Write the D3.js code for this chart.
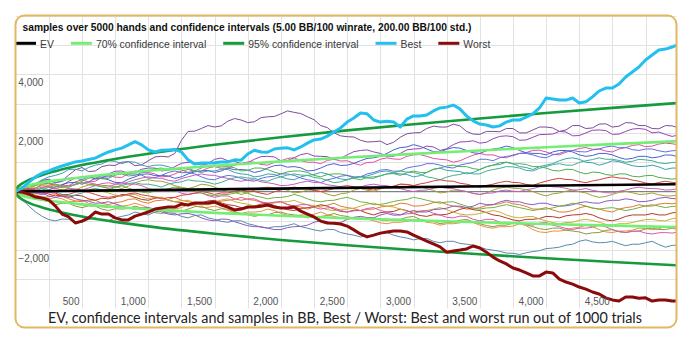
<!DOCTYPE html>
<html>
<head>
<meta charset="utf-8">
<script src="https://cdn.jsdelivr.net/npm/d3@7"></script>
<style>
  body { margin: 0; background: #fff; }
  svg { display: block; }
</style>
</head>
<body>
<svg id="chart" width="700" height="340"></svg>
<script>
// ---- data -------------------------------------------------------------
const titleText = "samples over 5000 hands and confidence intervals (5.00 BB/100 winrate, 200.00 BB/100 std.)";
const captionText = "EV, confidence intervals and samples in BB, Best / Worst: Best and worst run out of 1000 trials";

// hands at which every run was recorded (every 50 hands)
const hands = d3.range(0, 5001, 50);

// EV and confidence bands (BB)
const evHands = [0, 5000];
const evValues = [0, 250];
const ciHands = [0, 10, 25, 50, 100, 200, 300, 500, 750, 1000, 1500, 2000, 2500, 3000, 3500, 4000, 4500, 5000];
const upper70 = [0, 66, 105, 149, 212, 303, 374, 489, 605, 706, 878, 1027, 1161, 1285, 1401, 1511, 1616, 1716];
const lower70 = [0, -65, -102, -144, -202, -283, -344, -439, -530, -606, -728, -827, -911, -985, -1051, -1111, -1166, -1216];
const upper95 = [0, 125, 197, 280, 397, 564, 694, 902, 1111, 1290, 1593, 1853, 2085, 2297, 2494, 2679, 2855, 3022];
const lower95 = [0, -124, -195, -275, -387, -544, -664, -852, -1036, -1190, -1443, -1653, -1835, -1997, -2144, -2279, -2405, -2522];

// best and worst of 1000 trials (BB)
const bestRun = [
  0,120, 320,500, 630,700, 800,870, 940,1010, 1040,1090, 1140,1250, 1350,1420, 1480,1590, 1700,1590,
  1420,1350, 1410,1420, 1430,1350, 1080,940, 970,970, 980,1010, 1010,1080, 1070,1280, 1410,1350, 1340,1450,
  1480,1490, 1420,1520, 1650,1760, 1790,1890, 2030,2170, 2370,2510, 2680,2650, 2440,2370, 2400,2370, 2200,2470,
  2580,2580, 2610,2750, 2850,2880, 2950,2820, 2580,2410, 2300,2270, 2200,2240, 2370,2440, 2440,2540, 2650,2850,
  3190,3160, 3120,3120, 3190,3020, 3060,3230, 3430,3530, 3530,3670, 3910,4080, 4250,4490, 4660,4830, 4860,4930,
  5030];
const worstRun = [
  0,-20, -90,-190, -220,-290, -500,-770, -870,-1075, -1010,-900, -700,-770, -770,-900, -970,-970, -840,-770,
  -700,-600, -560,-530, -530,-430, -460,-390, -390,-390, -360,-460, -530,-630, -600,-530, -530,-500, -460,-530,
  -560,-560, -530,-670, -770,-870, -1010,-1075, -1080,-1110, -1180,-1310, -1450,-1550, -1490,-1420, -1380,-1350, -1350,-1380,
  -1490,-1590, -1690,-1790, -1890,-2070, -2030,-2000, -1960,-1860, -1930,-2070, -2240,-2370, -2470,-2610, -2680,-2780, -2880,-2880,
  -2750,-2780, -2990,-3090, -3160,-3260, -3330,-3430, -3500,-3630, -3700,-3740, -3600,-3600, -3640,-3630, -3740,-3700, -3700,-3740,
  -3740];

// other sample runs (BB)
const sample01 = [
  0,160, 200,230, 380,420, 300,370, 560,740, 820,680, 700,850, 900,890, 1000,1020, 880,910,
  1050,1180, 1200,1180, 1300,1750, 2050,2060, 2150,2250, 2200,2240, 2400,2490, 2440,2350, 2380,2520, 2550,2560,
  2650,2750, 2700,2660, 2550,2450, 2250,2180, 2000,1900, 1870,1860, 1750,1690, 1700,1720, 1600,1680, 1850,1970,
  2000,2010, 2150,2230, 2200,2200, 2300,2240, 2050,1960, 1950,2050, 2050,2040, 2150,2150, 2000,2000, 2100,2200,
  2200,2170, 2050,2100, 2250,2250, 2150,2170, 2300,2310, 2200,2230, 2350,2340, 2250,2250, 2150,2140, 2250,2240,
  2170];
const sample02 = [
  0,-40, 100,110, 250,290, 180,210, 350,460, 500,510, 420,450, 600,690, 700,620, 650,760,
  800,800, 700,730, 850,960, 1000,980, 900,950, 1100,1140, 1050,1030, 950,980, 1100,1190, 1200,1180,
  1050,1060, 1150,1260, 1300,1210, 1200,1190, 1100,1130, 1250,1360, 1400,1420, 1350,1300, 1200,1200, 1300,1420,
  1450,1460, 1550,1520, 1400,1460, 1600,1690, 1700,1730, 1650,1680, 1800,1880, 1900,1870, 1750,1760, 1850,1940,
  1950,1960, 2050,2030, 1900,1910, 2000,2090, 2100,2080, 1950,1960, 2050,2130, 2150,2120, 2000,2030, 1950,1880,
  1930];
const sample03 = [
  0,40, -50,10, 120,220, 250,190, 200,330, 400,320, 350,480, 550,490, 480,620, 700,660,
  650,600, 500,520, 600,700, 750,690, 700,800, 850,790, 800,900, 950,1010, 1000,920, 900,990,
  1050,1130, 1150,1050, 1000,1000, 950,1060, 1100,1040, 1050,960, 900,990, 1000,1100, 1150,1110, 1100,1200,
  1250,1260, 1200,1130, 1100,1080, 1000,1050, 1150,1240, 1300,1250, 1250,1180, 1150,1250, 1300,1330, 1400,1410,
  1350,1270, 1250,1340, 1400,1470, 1500,1440, 1450,1380, 1350,1450, 1500,1570, 1600,1530, 1550,1620, 1650,1630,
  1590];
const sample04 = [
  0,90, 80,-10, -50,60, 150,240, 300,310, 250,330, 450,460, 400,310, 300,420, 500,590,
  600,540, 550,530, 450,500, 600,670, 700,720, 650,700, 800,740, 750,730, 650,700, 800,880,
  900,830, 850,810, 700,720, 800,900, 950,890, 900,960, 1050,1130, 1150,1200, 1300,1420, 1500,1520,
  1600,1540, 1450,1360, 1350,1440, 1500,1480, 1400,1320, 1300,1390, 1450,1480, 1550,1500, 1400,1320, 1300,1300,
  1250,1350, 1400,1400, 1350,1250, 1200,1230, 1300,1300, 1250,1160, 1100,1130, 1200,1200, 1150,1180, 1250,1240,
  1180];
const sample05 = [
  0,130, 200,270, 400,500, 550,620, 750,760, 700,820, 900,940, 1050,1030, 950,1020, 1000,900,
  850,900, 900,850, 750,800, 800,700, 650,700, 700,760, 750,650, 600,580, 500,530, 600,580,
  500,430, 400,500, 550,580, 650,600, 500,430, 400,470, 500,530, 600,680, 700,630, 600,580,
  500,540, 650,760, 800,720, 700,680, 600,650, 750,850, 900,920, 1000,950, 850,820, 750,850,
  900,950, 1050,1120, 1150,1100, 1000,980, 900,960, 1050,1020, 950,880, 850,860, 900,840, 750,800,
  800];
const sample06 = [
  0,-80, -100,-40, 50,150, 200,130, 150,260, 350,450, 500,430, 450,560, 600,530, 550,640,
  700,780, 800,730, 750,740, 650,700, 800,870, 900,840, 850,810, 700,720, 800,800, 750,660,
  600,670, 700,700, 650,550, 500,580, 600,600, 550,450, 400,480, 500,530, 600,610, 550,640,
  700,650, 650,750, 800,870, 900,850, 850,780, 750,840, 900,980, 1000,940, 950,920, 850,850,
  800,720, 700,760, 750,660, 600,660, 650,580, 550,600, 600,520, 500,540, 550,480, 450,420,
  460];
const sample07 = [
  0,80, 100,130, 200,170, 100,60, 0,50, 150,220, 250,210, 200,170, 100,180, 300,370,
  400,360, 350,290, 200,140, 100,160, 250,220, 150,60, 0,-30, -100,-40, 50,120, 150,110,
  100,40, -50,-20, 50,50, 0,-90, -150,-80, -50,50, 100,40, 0,90, 150,180, 250,240,
  200,160, 100,40, -50,-20, 50,40, 0,-70, -100,-50, 50,120, 150,110, 100,60, 0,-90,
  -150,-80, -50,10, 50,-10, -50,-140, -200,-170, -100,-30, 0,-40, -100,-90, -50,-110, -150,-150,
  -120];
const sample08 = [
  0,-60, -80,-120, -200,-180, -100,-160, -250,-320, -350,-290, -300,-400, -450,-380, -350,-270, -250,-350,
  -400,-320, -300,-270, -200,-300, -350,-380, -450,-450, -400,-330, -300,-270, -200,-270, -300,-370, -400,-390,
  -350,-440, -500,-530, -600,-530, -500,-470, -400,-500, -550,-580, -650,-610, -600,-530, -500,-480, -400,-420,
  -500,-490, -450,-380, -350,-440, -500,-530, -600,-590, -550,-480, -450,-420, -350,-420, -450,-510, -600,-600,
  -550,-630, -700,-700, -650,-560, -500,-570, -600,-660, -700,-600, -550,-520, -450,-500, -500,-430, -400,-420,
  -390];
const sample09 = [
  0,60, 50,-60, -100,-30, -50,-160, -200,-130, -150,-250, -300,-230, -250,-200, -100,-130, -200,-270,
  -300,-230, -200,-300, -350,-380, -450,-440, -400,-320, -300,-390, -450,-480, -550,-550, -500,-430, -400,-480,
  -550,-620, -650,-580, -550,-520, -450,-500, -600,-680, -700,-640, -650,-740, -800,-720, -700,-680, -600,-650,
  -750,-820, -850,-790, -800,-780, -700,-610, -550,-620, -650,-720, -800,-830, -900,-970, -1000,-950, -950,-920,
  -850,-860, -900,-830, -800,-790, -750,-800, -900,-970, -1000,-940, -850,-800, -800,-800, -750,-800, -800,-730,
  -700];
const sample10 = [
  0,30, 100,200, 250,210, 200,170, 100,30, 0,60, 100,10, -50,-120, -150,-110, -100,-190,
  -250,-190, -200,-290, -350,-310, -300,-390, -450,-420, -350,-290, -250,-340, -400,-430, -500,-490, -450,-380,
  -350,-350, -300,-390, -450,-480, -550,-620, -650,-610, -600,-570, -500,-430, -400,-470, -500,-530, -600,-670,
  -700,-660, -650,-600, -550,-620, -700,-770, -800,-790, -750,-700, -650,-700, -800,-870, -900,-860, -850,-940,
  -1000,-1060, -1100,-1060, -1050,-980, -950,-990, -1050,-1120, -1150,-1100, -1100,-1060, -1000,-960, -950,-990, -1000,-930,
  -900];
const sample11 = [
  0,-90, -150,-170, -250,-260, -200,-250, -350,-340, -300,-400, -450,-520, -550,-490, -500,-470, -400,-470,
  -550,-620, -650,-600, -600,-550, -450,-480, -550,-540, -500,-560, -650,-720, -750,-700, -700,-680, -600,-650,
  -750,-820, -850,-800, -800,-780, -700,-790, -850,-900, -950,-900, -900,-940, -1000,-1070, -1100,-1050, -1050,-1020,
  -950,-980, -1050,-1080, -1150,-1100, -1100,-1070, -1000,-1060, -1150,-1220, -1250,-1200, -1200,-1180, -1100,-1170, -1300,-1380,
  -1400,-1350, -1350,-1320, -1250,-1220, -1150,-1200, -1300,-1380, -1400,-1350, -1350,-1320, -1250,-1260, -1300,-1270, -1200,-1220,
  -1210];
const sample12 = [
  0,-30, -100,-220, -300,-350, -450,-400, -400,-500, -550,-490, -500,-600, -650,-590, -600,-580, -500,-560,
  -650,-720, -750,-690, -700,-680, -600,-520, -500,-600, -650,-590, -600,-690, -750,-790, -850,-800, -800,-720,
  -700,-770, -800,-820, -900,-860, -850,-820, -750,-820, -850,-920, -950,-900, -900,-970, -1000,-950, -950,-880,
  -850,-950, -1000,-1020, -1100,-1060, -1050,-980, -950,-1040, -1100,-1160, -1200,-1150, -1150,-1080, -1050,-1140, -1200,-1270,
  -1300,-1250, -1250,-1320, -1350,-1380, -1450,-1410, -1400,-1330, -1300,-1370, -1400,-1360, -1350,-1280, -1250,-1300, -1300,-1250,
  -1310];
const sample13 = [
  0,60, 50,80, 150,150, 100,180, 200,230, 300,300, 250,160, 150,250, 300,250, 250,200,
  100,40, 0,50, 50,-60, -100,-60, -50,-140, -200,-150, -150,-250, -300,-250, -250,-350, -400,-360,
  -350,-450, -500,-450, -450,-540, -600,-560, -550,-650, -700,-660, -650,-580, -550,-650, -700,-760, -800,-760,
  -750,-680, -650,-740, -800,-880, -900,-840, -850,-950, -1000,-950, -950,-1050, -1100,-1060, -1050,-1120, -1150,-1080,
  -1050,-1150, -1200,-1260, -1300,-1250, -1250,-1220, -1150,-1210, -1300,-1370, -1400,-1360, -1350,-1420, -1450,-1410, -1400,-1420,
  -1380];
const sample14 = [
  0,-280, -500,-700, -850,-960, -1000,-940, -950,-1030, -1050,-950, -900,-990, -1000,-900, -850,-800, -700,-760,
  -800,-700, -650,-730, -750,-850, -900,-820, -800,-900, -950,-1020, -1050,-1000, -1000,-1100, -1150,-1220, -1250,-1200,
  -1200,-1160, -1100,-1200, -1250,-1310, -1350,-1290, -1300,-1400, -1450,-1490, -1550,-1510, -1500,-1440, -1400,-1490, -1550,-1590,
  -1650,-1610, -1600,-1700, -1750,-1700, -1700,-1770, -1800,-1830, -1900,-1970, -2000,-2040, -2100,-2110, -2150,-2090, -2050,-2020,
  -1950,-1930, -1900,-1830, -1800,-1700, -1650,-1720, -1750,-1740, -1700,-1780, -1850,-1800, -1800,-1750, -1700,-1810, -1900,-1840,
  -1830];
const sample15 = [
  0,70, 100,10, -50,-160, -200,-150, -150,-250, -300,-330, -400,-390, -350,-420, -500,-570, -600,-560,
  -550,-600, -700,-770, -800,-760, -750,-800, -900,-970, -1000,-940, -950,-1030, -1100,-1170, -1200,-1200, -1250,-1300,
  -1300,-1230, -1200,-1190, -1150,-1050, -1000,-1030, -1100,-1060, -950,-880, -850,-890, -900,-800, -750,-810, -800,-700,
  -650,-700, -700,-620, -600,-570, -500,-500, -550,-500, -400,-450, -450,-360, -300,-350, -350,-420, -450,-400,
  -400,-470, -500,-490, -450,-380, -350,-390, -400,-330, -300,-300, -250,-280, -350,-340, -300,-230, -200,-240,
  -250];
const sample16 = [
  0,130, 200,240, 350,360, 300,340, 450,460, 400,500, 550,490, 500,610, 650,590, 600,560,
  450,470, 550,650, 700,640, 650,600, 500,420, 400,490, 550,520, 450,380, 350,450, 500,520,
  600,600, 550,460, 400,370, 300,400, 450,520, 550,500, 500,600, 650,730, 750,690, 700,800,
  850,880, 950,950, 900,830, 800,900, 950,990, 1100,1100, 1050,1150, 1200,1220, 1300,1300, 1250,1180,
  1150,1250, 1300,1380, 1400,1360, 1350,1420, 1450,1520, 1550,1490, 1500,1430, 1400,1450, 1450,1390, 1350,1390,
  1400];
const sample17 = [
  0,-60, -50,50, 100,60, 0,-100, -150,-120, -50,50, 100,60, 50,140, 200,270, 300,250,
  250,210, 150,250, 300,330, 400,360, 350,310, 250,310, 400,470, 500,460, 450,380, 350,440,
  500,560, 600,560, 550,480, 450,380, 300,330, 400,470, 500,460, 450,540, 600,640, 700,660,
  650,590, 500,460, 400,490, 550,580, 650,600, 600,700, 750,790, 850,840, 800,720, 700,790,
  850,920, 950,900, 900,990, 1050,1090, 1150,1100, 1100,1060, 1000,1030, 1100,1080, 1050,980, 950,990,
  1000];
const sample18 = [
  0,40, 50,-50, -100,-40, -50,30, 100,90, 50,120, 200,270, 300,250, 250,330, 400,460,
  500,460, 450,380, 350,440, 500,560, 600,560, 550,490, 450,390, 350,390, 400,330, 300,260,
  200,210, 250,310, 350,310, 300,230, 200,160, 100,110, 150,220, 250,210, 200,140, 100,40,
  0,40, 50,110, 150,110, 100,40, 0,-60, -100,-60, -50,20, 50,10, 0,60, 100,160,
  200,160, 150,110, 50,60, 100,40, 0,-40, -50,10, 50,110, 150,110, 100,90, 50,60,
  100];
const sample19 = [
  0,60, 80,50, 0,-90, -150,-110, -100,-20, 0,-30, -100,-170, -200,-160, -150,-80, -50,-110,
  -150,-190, -250,-210, -200,-130, -100,-60, 0,-40, -100,-50, -50,10, 50,10, 0,-60, -100,-10,
  50,110, 150,110, 100,30, 0,40, 100,170, 200,160, 150,80, 50,120, 150,180, 250,240,
  200,260, 300,360, 400,360, 350,280, 250,190, 150,210, 250,310, 350,310, 300,240, 200,290,
  350,410, 450,410, 400,340, 300,360, 400,460, 500,460, 450,390, 350,290, 250,310, 350,310,
  300];
const sample20 = [
  0,90, 150,210, 300,290, 250,190, 150,240, 300,240, 200,160, 100,160, 200,110, 50,-20,
  -50,20, 50,90, 150,120, 100,20, -50,-110, -150,-110, -100,-60, 0,-60, -150,-190, -250,-210,
  -200,-170, -100,-160, -250,-320, -350,-310, -300,-240, -200,-270, -350,-380, -450,-440, -400,-340, -300,-270,
  -200,-240, -300,-350, -400,-360, -350,-430, -500,-560, -600,-560, -550,-500, -450,-500, -550,-600, -650,-610,
  -600,-560, -500,-460, -400,-430, -500,-560, -600,-570, -550,-600, -650,-610, -550,-490, -450,-500, -550,-510,
  -500];

const samples = [sample01, sample02, sample03, sample04, sample05, sample06, sample07, sample08, sample09, sample10,
                 sample11, sample12, sample13, sample14, sample15, sample16, sample17, sample18, sample19, sample20];
const sampleColors = ["#7d4b9c", "#9444b4", "#e0509f", "#4a5fd0", "#3aa0b0", "#4cb050", "#a0a030", "#e07a30", "#b03a2a", "#c8b030",
                      "#e89040", "#8a9a40", "#d85ab0", "#5a8aa8", "#8a5ac0", "#6070e0", "#40b090", "#c060c0", "#d04040", "#70b040"];

const legendLabels = ["EV", "70% confidence interval", "95% confidence interval", "Best", "Worst"];
const legendColors = ["#000000", "#74ee74", "#159a3c", "#22c0ee", "#8b0a0a"];

const xTickLabels = [500, 1000, 1500, 2000, 2500, 3000, 3500, 4000, 4500];
const yTickLabels = [-2000, 2000, 4000];

// ---- drawing ----------------------------------------------------------
const svg = d3.select("#chart");
const plot = { left: 15.7, right: 676, top: 15.7, bottom: 308.7 };

const x = d3.scaleLinear().domain([0, 5000]).range([15.7, 678.7]);
const y = d3.scaleLinear().domain([-4000, 6000]).range([308.7, 15.7]);

svg.append("defs").append("clipPath").attr("id", "plotClip")
  .append("rect")
  .attr("x", plot.left).attr("y", plot.top)
  .attr("width", plot.right - plot.left).attr("height", plot.bottom - plot.top);

// rounded card background
svg.append("rect")
  .attr("x", 15.5).attr("y", 15.5).attr("width", 661).attr("height", 312)
  .attr("rx", 9).attr("fill", "#fff");

// grid
const grid = svg.append("g").attr("clip-path", "url(#plotClip)");
grid.selectAll("line.vx").data(d3.range(250, 5000, 250)).join("line")
  .attr("x1", d => Math.round(x(d)) + 0.5).attr("x2", d => Math.round(x(d)) + 0.5)
  .attr("y1", plot.top).attr("y2", plot.bottom)
  .attr("stroke", "#e2e2e2").attr("stroke-width", 1);
grid.selectAll("line.hy").data(d3.range(-4000, 6001, 1000)).join("line")
  .attr("y1", d => Math.round(y(d)) + 0.5).attr("y2", d => Math.round(y(d)) + 0.5)
  .attr("x1", plot.left).attr("x2", plot.right)
  .attr("stroke", "#e2e2e2").attr("stroke-width", 1);
grid.append("line")
  .attr("x1", plot.left).attr("x2", plot.right)
  .attr("y1", y(0)).attr("y2", y(0))
  .attr("stroke", "#808080").attr("stroke-width", 1);

// series
const series = svg.append("g").attr("clip-path", "url(#plotClip)");
const runLine = d3.line().x((d, i) => x(hands[i])).y(d => y(d));
const ciLine = d3.line().x((d, i) => x(ciHands[i])).y(d => y(d)).curve(d3.curveMonotoneX);
const evLine = d3.line().x((d, i) => x(evHands[i])).y(d => y(d));

series.selectAll("path.sample").data(samples).join("path")
  .attr("class", "sample")
  .attr("d", runLine)
  .attr("fill", "none")
  .attr("stroke", (d, i) => sampleColors[i])
  .attr("stroke-width", 1)
  .attr("stroke-linejoin", "round");

[[upper70, legendColors[1]], [lower70, legendColors[1]], [upper95, legendColors[2]], [lower95, legendColors[2]]]
  .forEach(([vals, col]) => {
    series.append("path").attr("d", ciLine(vals))
      .attr("fill", "none").attr("stroke", col).attr("stroke-width", 2.6);
  });

series.append("path").attr("d", evLine(evValues))
  .attr("fill", "none").attr("stroke", legendColors[0]).attr("stroke-width", 2.6);

series.append("path").attr("d", runLine(worstRun))
  .attr("fill", "none").attr("stroke", legendColors[4]).attr("stroke-width", 3)
  .attr("stroke-linejoin", "round");
series.append("path").attr("d", runLine(bestRun))
  .attr("fill", "none").attr("stroke", legendColors[3]).attr("stroke-width", 3)
  .attr("stroke-linejoin", "round");

// axes (labels drawn inside the plot)
const xAxis = svg.append("g")
  .attr("transform", `translate(0,${plot.bottom})`)
  .call(d3.axisBottom(x).tickValues(xTickLabels).tickSize(0).tickFormat(d3.format(",")));
xAxis.select(".domain").remove();
xAxis.selectAll("text")
  .attr("y", -3.8).attr("dy", 0).attr("x", -3)
  .attr("text-anchor", "end")
  .attr("font-family", "'Liberation Sans', Arial, sans-serif")
  .attr("font-size", 10).attr("fill", "#555");

const yAxis = svg.append("g")
  .attr("transform", `translate(${plot.left},0)`)
  .call(d3.axisRight(y).tickValues(yTickLabels).tickSize(0).tickFormat(d3.format(",")));
yAxis.select(".domain").remove();
yAxis.selectAll("text")
  .attr("x", 2.6).attr("dy", 11.5)
  .attr("text-anchor", "start")
  .attr("font-family", "'Liberation Sans', Arial, sans-serif")
  .attr("font-size", 10).attr("fill", "#555");

// title
function fitWidth(sel, width) {
  const len = sel.node().getComputedTextLength();
  const fs = parseFloat(sel.attr("font-size"));
  sel.attr("font-size", (fs * width / len).toFixed(2));
}
const title = svg.append("text")
  .attr("x", 22.5).attr("y", 30.5)
  .attr("font-family", "'Liberation Sans', Arial, sans-serif")
  .attr("font-weight", "bold").attr("font-size", 11).attr("fill", "#111")
  .text(titleText);
fitWidth(title, 449);

// legend
const legend = svg.append("g");
let lx = 15;
legendLabels.forEach((label, i) => {
  legend.append("line")
    .attr("x1", lx).attr("x2", lx + 21).attr("y1", 43.3).attr("y2", 43.3)
    .attr("stroke", legendColors[i]).attr("stroke-width", 3);
  const t = legend.append("text")
    .attr("x", lx + 25).attr("y", 47.5)
    .attr("font-family", "'Liberation Sans', Arial, sans-serif")
    .attr("font-size", 10.4).attr("fill", "#3a3a3a")
    .text(label);
  lx += 25 + t.node().getComputedTextLength() + 17;
});

// caption under the plot
const caption = svg.append("text")
  .attr("x", 48).attr("y", 322.5)
  .attr("font-family", "Lato, 'Open Sans', sans-serif")
  .attr("font-size", 14).attr("fill", "#222")
  .text(captionText);
fitWidth(caption, 594);

// card border
svg.append("rect")
  .attr("x", 15.5).attr("y", 15.5).attr("width", 661).attr("height", 312)
  .attr("rx", 9).attr("fill", "none")
  .attr("stroke", "#e2b862").attr("stroke-width", 2);
</script>
</body>
</html>
